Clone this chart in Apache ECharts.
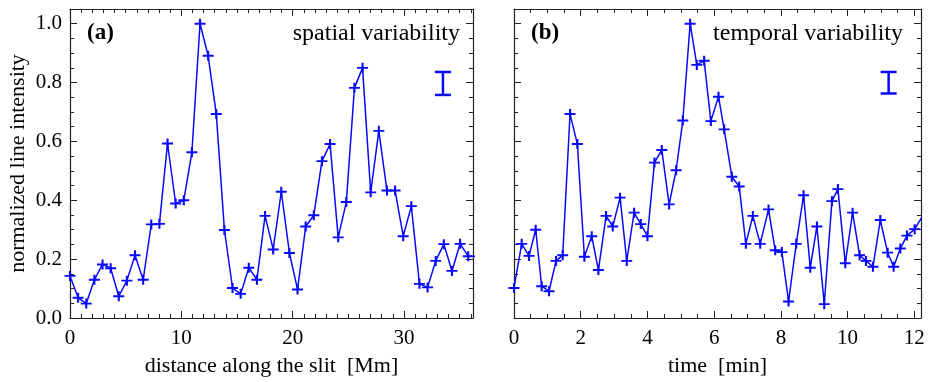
<!DOCTYPE html>
<html><head><meta charset="utf-8">
<script src="https://cdn.jsdelivr.net/npm/echarts@6/dist/echarts.min.js"></script>
<style>html,body{margin:0;padding:0;background:#fff}#c{width:930px;height:382px}</style>
</head><body><div id="c"></div>
<script>
// Panel (a): spatial variability
const spatialX = [0, 0.73, 1.46, 2.19, 2.92, 3.65, 4.38, 5.11, 5.84, 6.57, 7.30, 8.03, 8.76, 9.49, 10.22, 10.95, 11.68, 12.41, 13.14, 13.87, 14.60, 15.33, 16.06, 16.79, 17.52, 18.25, 18.98, 19.71, 20.44, 21.17, 21.90, 22.63, 23.36, 24.09, 24.82, 25.55, 26.28, 27.01, 27.74, 28.47, 29.20, 29.93, 30.66, 31.39, 32.12, 32.85, 33.58, 34.31, 35.04, 35.77, 36.50];
const spatialY = [0.143, 0.069, 0.049, 0.13, 0.182, 0.169, 0.074, 0.127, 0.213, 0.13, 0.318, 0.32, 0.593, 0.389, 0.40, 0.563, 1.0, 0.891, 0.693, 0.299, 0.102, 0.082, 0.171, 0.13, 0.347, 0.233, 0.429, 0.221, 0.097, 0.311, 0.349, 0.533, 0.591, 0.274, 0.394, 0.782, 0.85, 0.427, 0.636, 0.433, 0.433, 0.278, 0.38, 0.116, 0.104, 0.194, 0.251, 0.16, 0.252, 0.21, 0.21];
// Panel (b): temporal variability
const timeX = [0, 0.23, 0.45, 0.65, 0.83, 1.05, 1.26, 1.46, 1.68, 1.9, 2.11, 2.33, 2.53, 2.76, 2.96, 3.18, 3.38, 3.6, 3.8, 4.0, 4.21, 4.43, 4.65, 4.86, 5.06, 5.28, 5.48, 5.7, 5.9, 6.13, 6.3, 6.53, 6.75, 6.95, 7.16, 7.38, 7.63, 7.83, 8.03, 8.23, 8.46, 8.68, 8.88, 9.08, 9.3, 9.53, 9.71, 9.93, 10.15, 10.36, 10.55, 10.76, 10.98, 11.2, 11.38, 11.58, 11.78, 12.01, 12.22];
const timeY = [0.102, 0.252, 0.211, 0.30, 0.108, 0.091, 0.194, 0.213, 0.693, 0.591, 0.208, 0.278, 0.163, 0.347, 0.311, 0.409, 0.194, 0.358, 0.319, 0.278, 0.528, 0.571, 0.386, 0.502, 0.671, 1.0, 0.86, 0.874, 0.669, 0.752, 0.641, 0.48, 0.447, 0.252, 0.347, 0.252, 0.369, 0.23, 0.224, 0.056, 0.252, 0.417, 0.171, 0.311, 0.047, 0.397, 0.438, 0.186, 0.358, 0.213, 0.194, 0.174, 0.333, 0.222, 0.174, 0.236, 0.28, 0.302, 0.341];
// Error bars [x, low, high]
const errorBarA = [[33.5, 0.758, 0.836]];
const errorBarB = [[11.23, 0.763, 0.836]];
// Tick labels
const spatialTicks = [0, 10, 20, 30];
const timeTicks = [0, 2, 4, 6, 8, 10, 12];
const yTicks = [0.0, 0.2, 0.4, 0.6, 0.8, 1.0];
const panelTitles = ['(a)', '(b)'];
const panelNames = ['spatial variability', 'temporal variability'];
const axisNames = ['distance along the slit  [Mm]', 'time  [min]', 'normalized line intensity'];

const F = 'Liberation Serif';
const C = '#0808ff';
const AX = '#222';

function xAx(grid, max, interval, split, pos, showLabel, name) {
  return {
    type: 'value', gridIndex: grid, min: 0, max: max, interval: interval, position: pos,
    axisLine: {show: true, onZero: false, lineStyle: {color: AX, width: 1.2}},
    axisTick: {show: true, inside: true, length: 7, lineStyle: {color: AX, width: 1}},
    minorTick: {show: true, splitNumber: split, length: 4, lineStyle: {color: AX, width: 1}},
    splitLine: {show: false}, minorSplitLine: {show: false},
    axisLabel: {show: showLabel, showMaxLabel: false, color: '#000', fontFamily: F, fontSize: 21, margin: 10},
    name: name || '', nameLocation: 'middle', nameGap: 37,
    nameTextStyle: {color: '#000', fontFamily: F, fontSize: 22}
  };
}
function yAx(grid, pos, showLabel, name) {
  return {
    type: 'value', gridIndex: grid, min: yTicks[0], max: 1.05, interval: yTicks[1] - yTicks[0], position: pos,
    axisLine: {show: true, onZero: false, lineStyle: {color: AX, width: 1.2}},
    axisTick: {show: true, inside: true, length: 7, lineStyle: {color: AX, width: 1}},
    minorTick: {show: true, splitNumber: 4, length: 4, lineStyle: {color: AX, width: 1}},
    splitLine: {show: false}, minorSplitLine: {show: false},
    axisLabel: {show: showLabel, showMaxLabel: false, color: '#000', fontFamily: F, fontSize: 21, margin: 8,
      formatter: v => v.toFixed(1)},
    name: name || '', nameLocation: 'middle', nameGap: 41,
    nameTextStyle: {color: '#000', fontFamily: F, fontSize: 22}
  };
}
const plus = 'path://M5,0V10M0,5H10';
function lineSeries(xi, yi, xs, ys) {
  return {
    type: 'line', xAxisIndex: xi, yAxisIndex: yi,
    data: xs.map((x, i) => [x, ys[i]]),
    symbol: plus, symbolSize: [11, 10], showSymbol: true, showAllSymbol: true,
    lineStyle: {color: C, width: 1.5},
    itemStyle: {color: C, borderColor: C, borderWidth: 2},
    clip: true, animation: false, z: 3
  };
}
function errSeries(xi, yi, d) {
  return {
    type: 'custom', xAxisIndex: xi, yAxisIndex: yi, data: d,
    encode: {x: 0, y: [1, 2]}, animation: false,
    renderItem: function (params, api) {
      const x = api.value(0), lo = api.value(1), hi = api.value(2);
      const p1 = api.coord([x, lo]), p2 = api.coord([x, hi]);
      const w = 8;
      const style = {stroke: C, lineWidth: 2.5};
      return {type: 'group', children: [
        {type: 'line', shape: {x1: p1[0], y1: p1[1], x2: p2[0], y2: p2[1]}, style: style},
        {type: 'line', shape: {x1: p1[0] - w, y1: p1[1], x2: p1[0] + w, y2: p1[1]}, style: style},
        {type: 'line', shape: {x1: p2[0] - w, y1: p2[1], x2: p2[0] + w, y2: p2[1]}, style: style}
      ]};
    }
  };
}

const chart = echarts.init(document.getElementById('c'), null, {renderer: 'canvas'});
chart.setOption({
  backgroundColor: '#fff',
  animation: false,
  title: [
    {text: panelTitles[0], left: 87, top: 22, padding: 0, textStyle: {fontFamily: F, fontSize: 23, fontWeight: 'bold', color: '#000'}},
    {text: panelNames[0], right: 470, top: 22, padding: 0, textStyle: {fontFamily: F, fontSize: 24, fontWeight: 'normal', color: '#000'}},
    {text: panelTitles[1], left: 531, top: 22, padding: 0, textStyle: {fontFamily: F, fontSize: 23, fontWeight: 'bold', color: '#000'}},
    {text: panelNames[1], right: 27, top: 22, padding: 0, textStyle: {fontFamily: F, fontSize: 24, fontWeight: 'normal', color: '#000'}}
  ],
  grid: [
    {left: 70, right: 457, top: 9, bottom: 58, containLabel: false},
    {left: 514, right: 9, top: 9, bottom: 58, containLabel: false}
  ],
  xAxis: [
    xAx(0, 36.2, spatialTicks[1] - spatialTicks[0], 10, 'bottom', true, axisNames[0]),
    xAx(0, 36.2, spatialTicks[1] - spatialTicks[0], 10, 'top', false),
    xAx(1, 12.2, timeTicks[1] - timeTicks[0], 4, 'bottom', true, axisNames[1]),
    xAx(1, 12.2, timeTicks[1] - timeTicks[0], 4, 'top', false)
  ],
  yAxis: [
    yAx(0, 'left', true, axisNames[2]),
    yAx(0, 'right', false),
    yAx(1, 'left', false),
    yAx(1, 'right', false)
  ],
  series: [
    lineSeries(0, 0, spatialX, spatialY),
    lineSeries(2, 2, timeX, timeY),
    errSeries(0, 0, errorBarA),
    errSeries(2, 2, errorBarB)
  ]
});
</script>
</body></html>
